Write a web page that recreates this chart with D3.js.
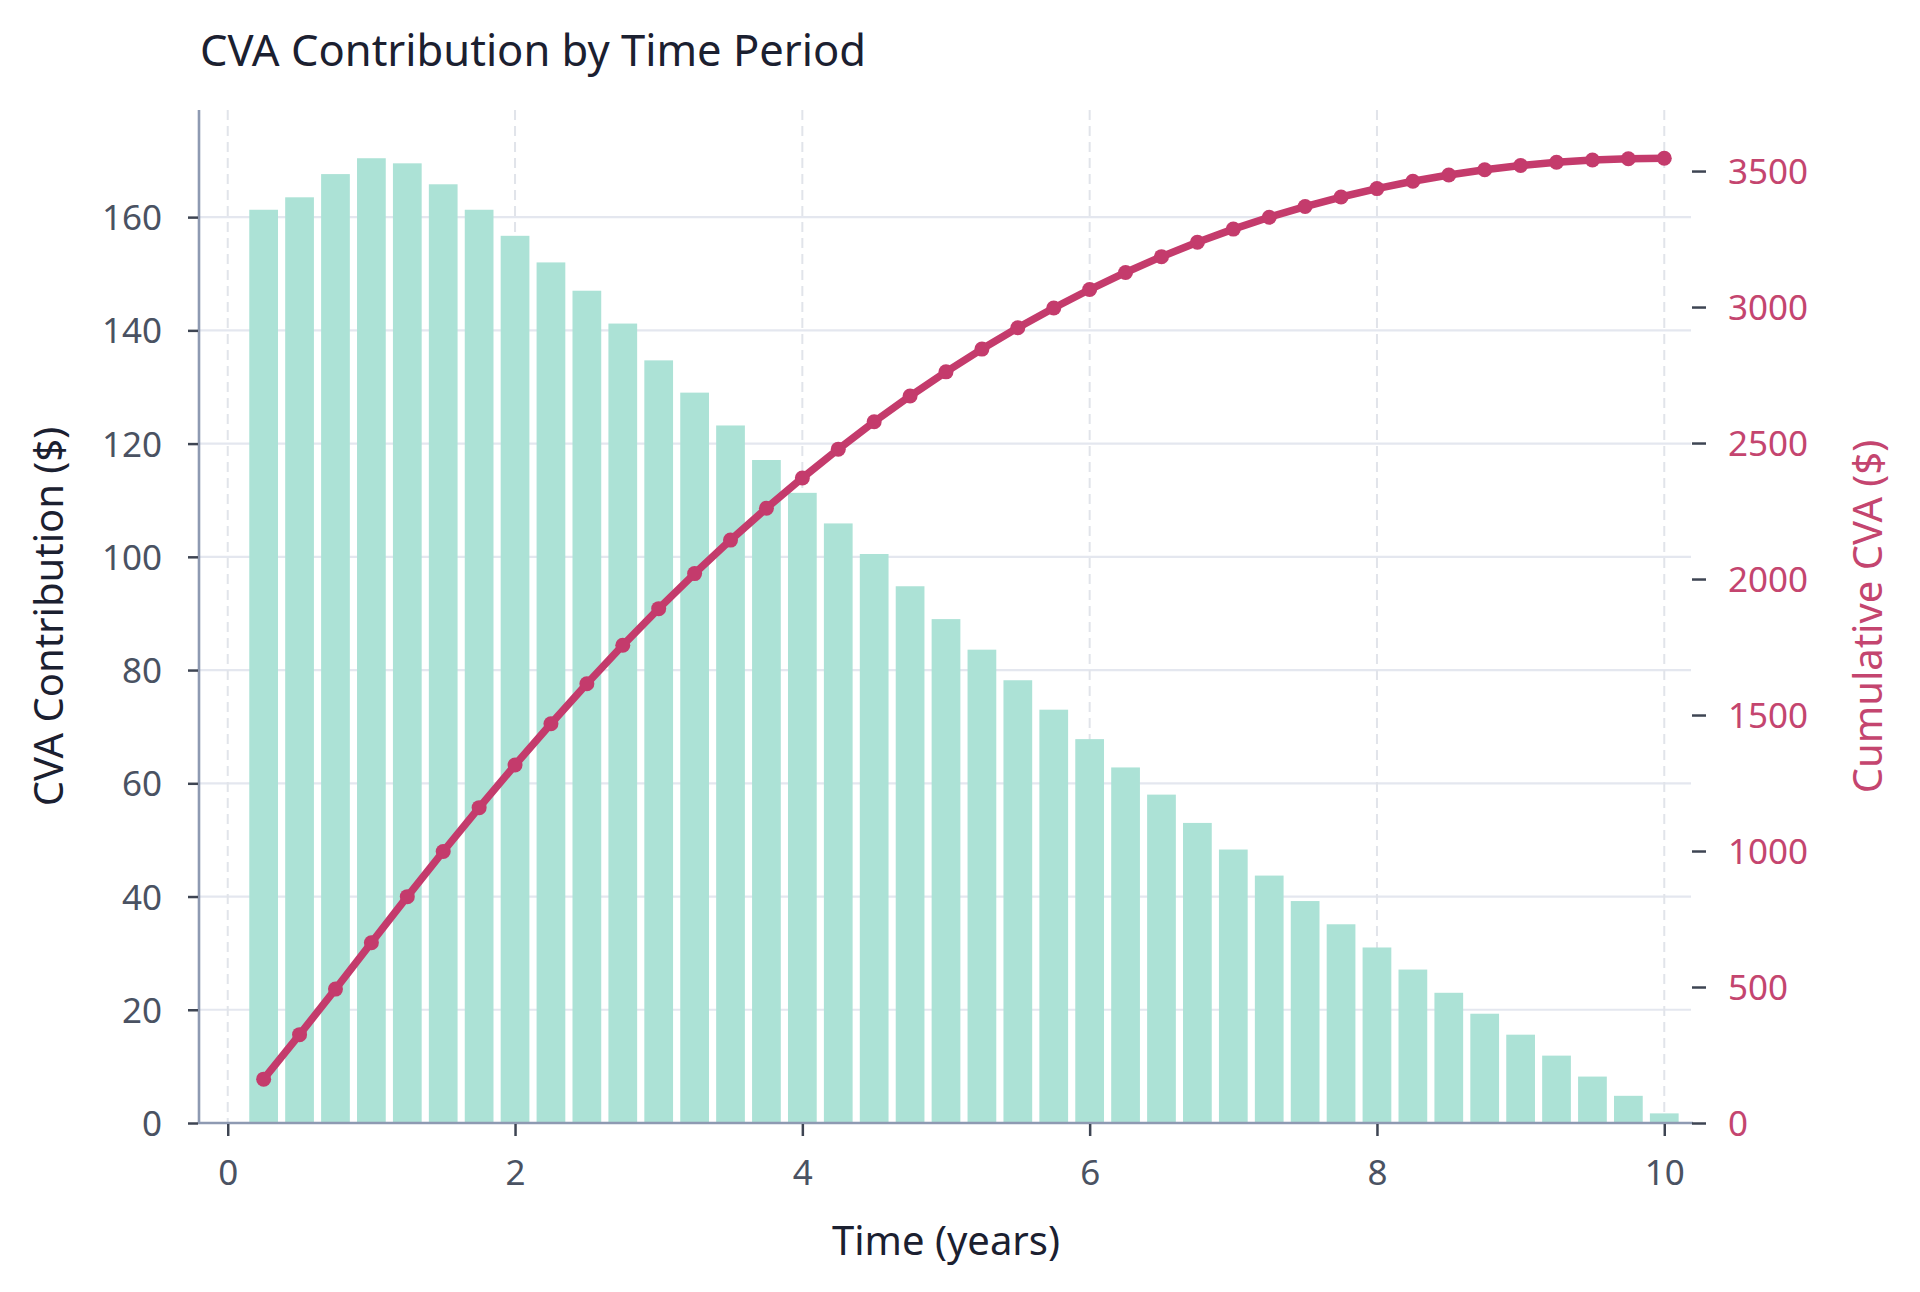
<!DOCTYPE html>
<html>
<head>
<meta charset="utf-8">
<script src="https://cdn.jsdelivr.net/npm/d3@7"></script>
<style>
  html, body { margin: 0; padding: 0; background: #ffffff; }
  svg { display: block; }
  text { font-family: "Noto Sans", "DejaVu Sans", sans-serif; }
</style>
</head>
<body>
<svg id="chart" width="1920" height="1292"></svg>
<script>
// ---- data ----
const times = [0.25, 0.5, 0.75, 1.0, 1.25, 1.5, 1.75, 2.0, 2.25, 2.5,
               2.75, 3.0, 3.25, 3.5, 3.75, 4.0, 4.25, 4.5, 4.75, 5.0,
               5.25, 5.5, 5.75, 6.0, 6.25, 6.5, 6.75, 7.0, 7.25, 7.5,
               7.75, 8.0, 8.25, 8.5, 8.75, 9.0, 9.25, 9.5, 9.75, 10.0];
const contribution = [161.3, 163.5, 167.6, 170.4, 169.5, 165.8, 161.3, 156.7, 152.0, 147.0,
                      141.2, 134.7, 129.0, 123.2, 117.1, 111.3, 105.9, 100.5, 94.8, 89.0,
                      83.6, 78.2, 73.0, 67.8, 62.8, 58.0, 53.0, 48.3, 43.7, 39.2,
                      35.1, 31.0, 27.1, 23.0, 19.3, 15.6, 11.9, 8.2, 4.8, 1.7];
const cumulative = [161.3, 324.8, 492.4, 662.8, 832.3, 998.1, 1159.4, 1316.1, 1468.1, 1615.1,
                    1756.3, 1891.0, 2020.0, 2143.2, 2260.3, 2371.6, 2477.5, 2578.0, 2672.8, 2761.8,
                    2845.4, 2923.6, 2996.6, 3064.4, 3127.2, 3185.2, 3238.2, 3286.5, 3330.2, 3369.4,
                    3404.5, 3435.5, 3462.6, 3485.6, 3504.9, 3520.5, 3532.4, 3540.6, 3545.4, 3547.1];
const xTicks = [0, 2, 4, 6, 8, 10];
const yLeftTicks = [0, 20, 40, 60, 80, 100, 120, 140, 160];
const yRightTicks = [0, 500, 1000, 1500, 2000, 2500, 3000, 3500];
const barWidthYears = 0.2;

const titleText = "CVA Contribution by Time Period";
const xLabel = "Time (years)";
const yLeftLabel = "CVA Contribution ($)";
const yRightLabel = "Cumulative CVA ($)";

// ---- layout ----
const L = 199, R = 1693, T = 110, B = 1123;
const svg = d3.select("#chart");
svg.append("rect").attr("width", 1920).attr("height", 1292).attr("fill", "#ffffff");

const x = d3.scaleLinear().domain([-0.2, 10.2]).range([L, R]);
const yL = d3.scaleLinear().domain([0, d3.max(contribution) * 1.05]).range([B, T]);
const yR = d3.scaleLinear().domain([0, d3.max(cumulative) * 1.05]).range([B, T]);

const tickColor = "#3e4553";
const labelColor = "#4a5262";
const spineColor = "#8e9ab2";
const pink = "#c43b6c";
const pinkText = "#c4456f";

// grid
const grid = svg.append("g");
grid.selectAll("line.h").data(yLeftTicks).join("line")
  .attr("x1", L).attr("x2", R - 2)
  .attr("y1", d => yL(d)).attr("y2", d => yL(d))
  .attr("stroke", "#e4e7ef").attr("stroke-width", 2.2);
grid.selectAll("line.v").data(xTicks).join("line")
  .attr("x1", d => x(d)).attr("x2", d => x(d))
  .attr("y1", T).attr("y2", B)
  .attr("stroke", "#e1e4ea").attr("stroke-width", 2)
  .attr("stroke-dasharray", "10,6");

// bars
svg.append("g").selectAll("rect").data(times).join("rect")
  .attr("x", (d) => x(d - barWidthYears / 2))
  .attr("width", (d) => x(d + barWidthYears / 2) - x(d - barWidthYears / 2))
  .attr("y", (d, i) => yL(contribution[i]))
  .attr("height", (d, i) => yL(0) - yL(contribution[i]))
  .attr("fill", "#ace2d6");

// spines
svg.append("line").attr("x1", L).attr("x2", L).attr("y1", T).attr("y2", B + 1)
  .attr("stroke", spineColor).attr("stroke-width", 2.6);
svg.append("line").attr("x1", L - 1).attr("x2", R).attr("y1", B).attr("y2", B)
  .attr("stroke", spineColor).attr("stroke-width", 2.6);

// left axis
const axL = svg.append("g").attr("transform", `translate(${L - 1},0)`)
  .call(d3.axisLeft(yL).tickValues(yLeftTicks).tickSize(10).tickPadding(26).tickFormat(d3.format("d")));
axL.select(".domain").remove();
axL.selectAll(".tick line").attr("stroke", tickColor).attr("stroke-width", 2.5);
axL.selectAll(".tick text").attr("fill", labelColor).attr("font-size", 35)
  .attr("font-family", "Noto Sans").attr("dy", "0.36em");

// bottom axis
const axB = svg.append("g").attr("transform", `translate(0,${B + 1})`)
  .call(d3.axisBottom(x).tickValues(xTicks).tickSize(12).tickPadding(24).tickFormat(d3.format("d")));
axB.select(".domain").remove();
axB.selectAll(".tick line").attr("stroke", tickColor).attr("stroke-width", 2.5);
axB.selectAll(".tick text").attr("fill", labelColor).attr("font-size", 35)
  .attr("font-family", "Noto Sans");

// right axis
const axR = svg.append("g").attr("transform", `translate(${R - 1},0)`)
  .call(d3.axisRight(yR).tickValues(yRightTicks).tickSize(14).tickPadding(22).tickFormat(d3.format("d")));
axR.select(".domain").remove();
axR.selectAll(".tick line").attr("stroke", tickColor).attr("stroke-width", 2.5);
axR.selectAll(".tick text").attr("fill", pinkText).attr("font-size", 35)
  .attr("font-family", "Noto Sans").attr("dy", "0.36em");

// cumulative line
const pts = times.map((t, i) => [t, cumulative[i]]);
svg.append("path").datum(pts)
  .attr("d", d3.line().x(d => x(d[0])).y(d => yR(d[1])))
  .attr("fill", "none").attr("stroke", pink).attr("stroke-width", 7.5)
  .attr("stroke-linejoin", "round").attr("stroke-linecap", "round");
svg.append("g").selectAll("circle").data(pts).join("circle")
  .attr("cx", d => x(d[0])).attr("cy", d => yR(d[1])).attr("r", 7.5)
  .attr("fill", pink);

// title & labels
svg.append("text").attr("x", 200).attr("y", 66).attr("font-size", 43.5)
  .attr("fill", "#1b2030").text(titleText);
svg.append("text").attr("x", (L + R) / 2).attr("y", 1255).attr("text-anchor", "middle")
  .attr("font-size", 40).attr("fill", "#1b2030").text(xLabel);
svg.append("text").attr("transform", `translate(63,${(T + B) / 2}) rotate(-90)`)
  .attr("text-anchor", "middle").attr("font-size", 40).attr("fill", "#1b2030").text(yLeftLabel);
svg.append("text").attr("transform", `translate(1882,${(T + B) / 2}) rotate(-90)`)
  .attr("text-anchor", "middle").attr("font-size", 40).attr("fill", pinkText).text(yRightLabel);
</script>
</body>
</html>
